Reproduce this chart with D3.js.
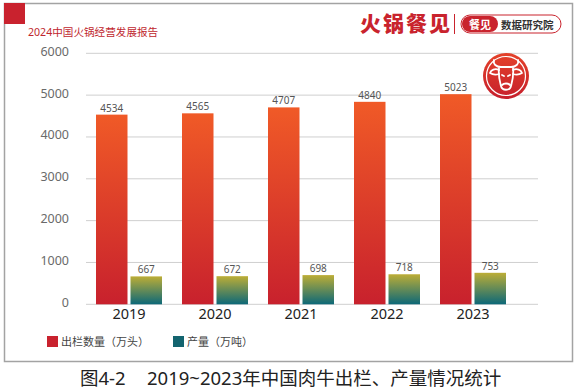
<!DOCTYPE html>
<html>
<head>
<meta charset="utf-8">
<title>肉牛出栏与产量</title>
<script src="https://d3js.org/d3.v7.min.js"></script>
<style>
  body { margin: 0; background: #fff; }
  svg text { font-family: "Noto Sans", "Noto Sans CJK SC", sans-serif; }
</style>
</head>
<body>
<div id="main"></div>
<script type="text/javascript">
	var width  = 576;
	var height = 391;

	// data
	var years      = ["2019", "2020", "2021", "2022", "2023"];
	var slaughter  = [4534, 4565, 4707, 4840, 5023];   // 出栏数量（万头）
	var production = [667, 672, 698, 718, 753];        // 产量（万吨）
	var yTicks     = [0, 1000, 2000, 3000, 4000, 5000, 6000];
	var seriesKeys = ["slaughter", "production"];
	var seriesNames= ["出栏数量（万头）", "产量（万吨）"];

	var rows = years.map((y, i) => ({year: y, slaughter: slaughter[i], production: production[i]}));

	var svg = d3.select("#main").append("svg")
		.attr("width", width)
		.attr("height", height);

	var defs = svg.append("defs");
	function vGrad(id, top, bottom) {
		var g = defs.append("linearGradient").attr("id", id)
			.attr("x1", 0).attr("y1", 0).attr("x2", 0).attr("y2", 1);
		g.append("stop").attr("offset", "0%").attr("stop-color", top);
		g.append("stop").attr("offset", "100%").attr("stop-color", bottom);
	}
	vGrad("gRed", "#f05a27", "#c8212d");
	vGrad("gTeal", "#bcad36", "#0c6878");
	vGrad("gBull", "#e4422a", "#c61f2c");

	// frame
	svg.append("rect")
		.attr("x", 4.5).attr("y", 3.5).attr("width", 568).attr("height", 358)
		.attr("fill", "none").attr("stroke", "#a3a3a3").attr("stroke-width", 1.5);
	svg.append("rect")
		.attr("x", 4).attr("y", 3).attr("width", 21).attr("height", 21)
		.attr("fill", "#c9222e");

	svg.append("text")
		.attr("x", 28).attr("y", 36)
		.attr("font-size", 10.6).attr("fill", "#c0272e")
		.text("2024中国火锅经营发展报告");

	// header logo
	svg.append("text")
		.attr("x", 360).attr("y", 31)
		.attr("font-size", 21).attr("font-weight", 900)
		.attr("letter-spacing", 2)
		.attr("fill", "#c9232d")
		.text("火锅餐见");
	svg.append("line")
		.attr("x1", 454.5).attr("x2", 454.5).attr("y1", 14).attr("y2", 34)
		.attr("stroke", "#c9232d").attr("stroke-width", 1);
	svg.append("rect")
		.attr("x", 461).attr("y", 15).attr("width", 100).attr("height", 18).attr("rx", 9)
		.attr("fill", "#fff").attr("stroke", "#c9232d").attr("stroke-width", 1);
	svg.append("rect")
		.attr("x", 462).attr("y", 16).attr("width", 36).attr("height", 16).attr("rx", 8)
		.attr("fill", "#c9232d");
	svg.append("text")
		.attr("x", 480).attr("y", 28.5).attr("text-anchor", "middle")
		.attr("font-size", 11).attr("font-weight", 700).attr("fill", "#fff")
		.text("餐见");
	svg.append("text")
		.attr("x", 501).attr("y", 28.5)
		.attr("font-size", 10.5).attr("font-weight", 700).attr("fill", "#333")
		.text("数据研究院");

	// scales
	var yScale = d3.scaleLinear().domain([0, 6000]).range([304.3, 53.3]);
	var pad = 20 / 86;
	var x0 = d3.scaleBand().domain(years).range([86, 516])
		.paddingInner(pad).paddingOuter(pad / 2);
	var x1 = d3.scaleBand().domain(seriesKeys).range([0, x0.bandwidth()])
		.paddingInner(0.087);

	// grid
	svg.append("g").selectAll("line").data(yTicks).enter().append("line")
		.attr("x1", 86).attr("x2", 538)
		.attr("y1", d => yScale(d)).attr("y2", d => yScale(d))
		.attr("stroke", "#cfcfcf").attr("stroke-width", 1);

	svg.append("g").selectAll("text").data(yTicks).enter().append("text")
		.attr("x", 69).attr("y", d => yScale(d) - 2)
		.attr("dy", "0.35em").attr("text-anchor", "end")
		.attr("font-size", 12.5).attr("fill", "#6a6a6a")
		.text(d => d);

	// bars
	var groups = svg.append("g").selectAll("g").data(rows).enter().append("g")
		.attr("transform", d => "translate(" + x0(d.year) + ",0)");

	var fills = {slaughter: "url(#gRed)", production: "url(#gTeal)"};
	groups.selectAll("rect").data(d => seriesKeys.map(k => ({key: k, value: d[k]})))
		.enter().append("rect")
		.attr("x", d => x1(d.key))
		.attr("width", x1.bandwidth())
		.attr("y", d => yScale(d.value))
		.attr("height", d => yScale(0) - yScale(d.value))
		.attr("fill", d => fills[d.key]);

	groups.selectAll("text.val").data(d => seriesKeys.map(k => ({key: k, value: d[k]})))
		.enter().append("text").attr("class", "val")
		.attr("x", d => x1(d.key) + x1.bandwidth() / 2)
		.attr("y", d => yScale(d.value) - 3)
		.attr("text-anchor", "middle")
		.attr("font-size", 10).attr("fill", "#555")
		.text(d => d.value);

	svg.append("g").selectAll("text").data(years).enter().append("text")
		.attr("x", d => x0(d) + x0.bandwidth() / 2)
		.attr("y", 319)
		.attr("text-anchor", "middle")
		.attr("font-size", 14.5).attr("fill", "#222")
		.text(d => d);

	// legend
	var legendX = [47, 173];
	var legendColor = ["#c9222e", "#13646f"];
	var legend = svg.append("g").selectAll("g").data(seriesNames).enter().append("g")
		.attr("transform", (d, i) => "translate(" + legendX[i] + ",336)");
	legend.append("rect").attr("width", 11).attr("height", 11)
		.attr("fill", (d, i) => legendColor[i]);
	legend.append("text").attr("x", 14).attr("y", 10)
		.attr("font-size", 11).attr("fill", "#444")
		.text(d => d);

	// bull badge
	var bull = svg.append("g").attr("transform", "translate(506,76)");
	bull.append("circle").attr("r", 23).attr("fill", "url(#gBull)");
	bull.append("circle").attr("r", 19.5).attr("fill", "none")
		.attr("stroke", "#fff").attr("stroke-width", 1.2);
	var bullPaths = [
		"M-5,-9 C-10,-9 -13,-12 -12,-16",
		"M5,-9 C10,-9 13,-12 12,-16",
		"M-5,-9 L5,-9",
		"M-7,-6 C-11,-8 -15,-6 -16,-3 C-13,-1 -10,-1 -7,-2",
		"M7,-6 C11,-8 15,-6 16,-3 C13,-1 10,-1 7,-2",
		"M-7,-8 C-8,0 -6,6 -5,10 C-4,15 4,15 5,10 C6,6 8,0 7,-8",
		"M-4,-1 L-2,0", "M4,-1 L2,0",
		"M-4,9 C-2,7 2,7 4,9"
	];
	bull.selectAll("path").data(bullPaths).enter().append("path")
		.attr("d", d => d)
		.attr("fill", "none").attr("stroke", "#fff")
		.attr("stroke-width", 1.8).attr("stroke-linecap", "round").attr("stroke-linejoin", "round");

	// caption
	svg.append("text")
		.attr("x", 80).attr("y", 385)
		.attr("font-size", 18.5).attr("fill", "#222")
		.text("图4-2");
	svg.append("text")
		.attr("x", 147).attr("y", 385)
		.attr("font-size", 18.5).attr("fill", "#222")
		.text("2019~2023年中国肉牛出栏、产量情况统计");
</script>
</body>
</html>
